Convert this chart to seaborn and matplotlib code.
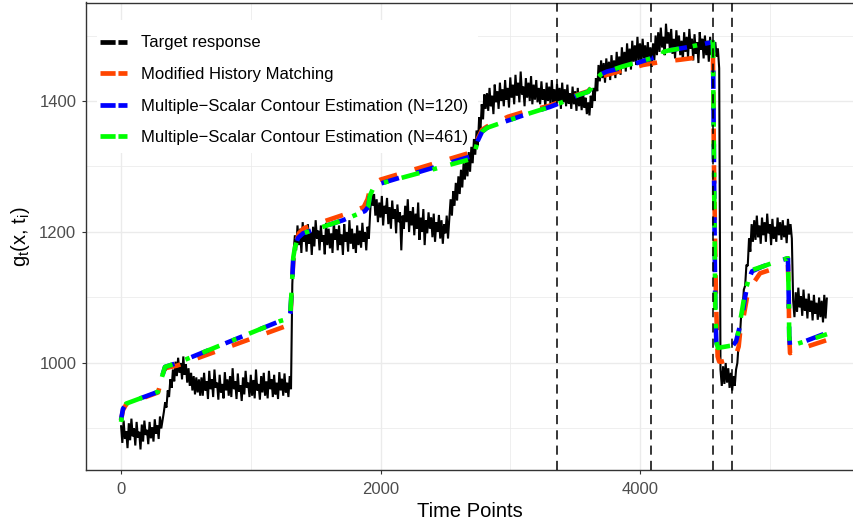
import numpy as np
import pandas as pd
import matplotlib
matplotlib.use("Agg")
import matplotlib.pyplot as plt
import seaborn as sns
from matplotlib.lines import Line2D
from matplotlib.patches import Rectangle
from matplotlib.ticker import FixedLocator

# ---------------- data ----------------
STEP = 10  # time spacing of the sampled target response

target_a = [905, 878, 912, 884, 896, 870, 908, 882, 915, 888, 900, 874, 910, 886, 895, 868,
            906, 880, 912, 890, 898, 876, 910, 885, 902, 880, 914, 892, 905, 884, 918, 900]
target_b = [912, 925, 940, 932, 958, 948, 975, 962, 990, 972, 1002, 980, 1008, 985, 1000,
            975, 1010, 982, 998, 970, 992, 965, 985, 958, 980, 952, 978, 955, 975, 950]
target_c = [978, 950, 985, 958, 972, 945, 988, 960, 975, 948, 990, 962, 970, 944, 982, 955, 968, 946, 986, 958,
            975, 950, 980, 948, 992, 960, 972, 945, 984, 956, 966, 942, 978, 952, 988, 962, 970, 948, 982, 950,
            974, 946, 990, 958, 968, 944, 980, 955, 985, 950, 972, 946, 988, 960, 975, 948, 982, 952, 970, 945,
            986, 958, 976, 950, 984, 955, 970, 948, 980, 960]
target_d = [1120, 1170, 1195, 1172, 1210, 1180, 1205, 1168, 1215, 1185, 1198, 1170, 1212, 1182, 1200, 1165, 1208, 1178, 1218, 1190,
            1202, 1172, 1210, 1185, 1195, 1166, 1214, 1180, 1205, 1175, 1198, 1168, 1216, 1188, 1204, 1172, 1210, 1180, 1196, 1165,
            1212, 1185, 1200, 1170, 1218, 1182, 1205, 1174, 1198, 1168, 1210, 1180, 1202, 1176, 1214, 1185, 1200, 1172, 1208, 1190]
target_e = [1230, 1262, 1240, 1258, 1225, 1250, 1215, 1245, 1222, 1255, 1210, 1240, 1228, 1252, 1212, 1238, 1205, 1248, 1220, 1235,
            1198, 1242, 1215, 1230, 1172, 1225, 1205, 1240, 1215, 1250, 1200, 1232, 1210, 1238, 1195, 1228, 1205, 1245, 1188, 1222,
            1200, 1235, 1180, 1218, 1198, 1230, 1205, 1222, 1192, 1228, 1185, 1215, 1200, 1226, 1190, 1218, 1182, 1212, 1198, 1225,
            1190, 1220]
target_f = [1250, 1225, 1262, 1240, 1275, 1248, 1285, 1258, 1295, 1268, 1305, 1280, 1312, 1285,
            1322, 1292, 1330, 1305, 1342, 1318, 1355, 1332, 1375, 1355, 1395, 1372, 1410, 1388]
target_g = [1412, 1385, 1420, 1392, 1408, 1380, 1425, 1398, 1415, 1388, 1428, 1400, 1418, 1392, 1432, 1402, 1420, 1390, 1436, 1405,
            1425, 1395, 1440, 1408, 1428, 1398, 1445, 1410, 1422, 1392, 1435, 1405, 1428, 1400, 1438, 1395, 1425, 1402, 1432, 1398,
            1420, 1395, 1430, 1402, 1418, 1390, 1428, 1400, 1422, 1394, 1432, 1398, 1418, 1392, 1426, 1400, 1420, 1388, 1428, 1398,
            1418, 1392, 1425, 1396, 1412, 1388, 1422, 1395, 1415, 1385, 1420, 1392, 1410, 1386, 1415, 1390, 1405, 1380, 1398, 1378,
            1408, 1390, 1420, 1400]
target_h = [1435, 1415, 1455, 1430, 1462, 1435, 1458, 1428, 1465, 1438, 1460, 1432, 1470, 1440, 1462, 1435, 1475, 1445, 1468, 1440,
            1482, 1450, 1475, 1445, 1488, 1455, 1480, 1448, 1492, 1460, 1485, 1455, 1498, 1462, 1488, 1458, 1495, 1465, 1485, 1455,
            1490, 1460, 1482, 1452, 1488, 1462, 1500, 1470]
target_i = [1505, 1475, 1512, 1482, 1498, 1470, 1518, 1488, 1505, 1478, 1510, 1472, 1495, 1465, 1508, 1480, 1500, 1470, 1492, 1462,
            1505, 1475, 1498, 1466, 1510, 1480, 1495, 1462, 1502, 1472, 1490, 1458, 1505, 1478, 1495, 1465, 1500, 1470, 1492, 1460,
            1498, 1470, 1488, 1475]
target_j = [1490, 1468, 1480, 1450, 990, 965, 995, 968, 1000, 970, 992, 962, 985, 958, 980, 965, 990, 1000]
target_k0 = [1030, 1042, 1075, 1082, 1112, 1118, 1150, 1148, 1190, 1170, 1212, 1185]
target_k = [1218, 1188, 1225, 1192, 1210, 1182, 1222, 1195, 1215, 1185, 1228, 1198, 1212, 1180, 1220,
            1190, 1208, 1185, 1222, 1195, 1215, 1188, 1218, 1192, 1210, 1183, 1220, 1196, 1212, 1190]
target_l = [1095, 1070, 1108, 1078, 1115, 1085, 1102, 1072, 1112, 1080, 1098, 1068, 1106, 1078,
            1095, 1065, 1104, 1075, 1092, 1066, 1100, 1070, 1095, 1062, 1104, 1068, 1100]

target = (target_a + target_b + target_c + target_d + target_e + target_f + target_g +
          target_h + target_i + target_j + target_k0 + target_k + target_l)
target_time = np.arange(len(target)) * STEP

mhm_t = [0, 15, 40, 285, 316, 339, 432, 1225, 1295, 1305,
         1312, 1320, 1328, 1345, 1370, 1410, 1711, 1870, 1900, 1920,
         1945, 2000, 2690, 2730, 2751, 2782, 2820, 2983, 3100, 3306,
         3398, 3522, 3600, 3625, 3645, 3700, 3745, 4023, 4170, 4308,
         4462, 4562, 4570, 4585, 4598, 4610, 4632, 4732, 4760, 4771,
         4794, 4825, 4863, 4925, 5079, 5140, 5146, 5150, 5156, 5256,
         5441]
mhm_y = [913, 928, 937, 955, 977, 992, 996, 1053, 1058, 1068,
         1095, 1128, 1158, 1182, 1198, 1206, 1226, 1238, 1250, 1266,
         1274, 1280, 1321, 1330, 1343, 1356, 1361, 1376, 1383, 1393,
         1400, 1410, 1415, 1420, 1428, 1437, 1440, 1455, 1460, 1463,
         1467, 1468, 1300, 1100, 1010, 1002, 1002, 1008, 1025, 1046,
         1066, 1101, 1119, 1137, 1147, 1150, 1100, 1040, 1015, 1023,
         1035]

msce_t = [0, 15, 40, 285, 316, 339, 432, 1225, 1295, 1305,
          1312, 1320, 1328, 1341, 1364, 1403, 1711, 1880, 1904, 1919,
          1942, 2000, 2690, 2730, 2751, 2782, 2820, 2921, 3113, 3306,
          3398, 3522, 3600, 3625, 3645, 3700, 3745, 3869, 4100, 4172,
          4180, 4216, 4362, 4562, 4570, 4580, 4588, 4600, 4717, 4740,
          4755, 4786, 4809, 4833, 4863, 4940, 5040, 5140, 5146, 5150,
          5156, 5256, 5441]
msce120_y = [913, 930, 938, 956, 979, 994, 1000, 1064, 1068, 1076,
             1101, 1131, 1162, 1177, 1191, 1198, 1218, 1232, 1238, 1256,
             1266, 1274, 1315, 1325, 1340, 1353, 1359, 1366, 1379, 1391,
             1398, 1409, 1414, 1420, 1430, 1441, 1445, 1451, 1466, 1470,
             1475, 1477, 1482, 1490, 1300, 1080, 1032, 1023, 1027, 1033,
             1045, 1069, 1100, 1125, 1140, 1147, 1154, 1160, 1100, 1040,
             1026, 1032, 1046]
msce461_y = [910, 930, 938, 956, 979, 994, 1000, 1064, 1068, 1076,
             1101, 1131, 1162, 1177, 1191, 1198, 1218, 1232, 1238, 1256,
             1266, 1274, 1311, 1325, 1340, 1353, 1359, 1366, 1379, 1391,
             1398, 1409, 1414, 1420, 1430, 1441, 1445, 1453, 1466, 1470,
             1475, 1477, 1482, 1490, 1300, 1080, 1032, 1023, 1027, 1033,
             1045, 1080, 1108, 1125, 1142, 1147, 1154, 1160, 1100, 1040,
             1026, 1032, 1044]

vlines_t = [3363, 4087, 4563, 4707]

labels = ["Target response", "Modified History Matching",
          "Multiple\u2212Scalar Contour Estimation (N=120)",
          "Multiple\u2212Scalar Contour Estimation (N=461)"]
colors = ["#000000", "#FF4500", "#0000FF", "#00FF00"]

# ---------------- figure ----------------
sns.set_theme(style="white")
plt.rcParams['font.family'] = ['Liberation Sans', 'DejaVu Sans']
plt.rcParams['mathtext.fontset'] = 'custom'
plt.rcParams['mathtext.rm'] = 'Liberation Sans'
plt.rcParams['mathtext.it'] = 'Liberation Sans'

W, H = 854, 521
fig = plt.figure(figsize=(W / 100, H / 100), dpi=100)
ax_l, ax_r, ax_t, ax_b = 86, 854, 2.5, 470
ax = fig.add_axes([ax_l / W, (H - ax_b) / H, (ax_r - ax_l) / W, (ax_b - ax_t) / H])
ax.set_facecolor("white")

# grid
ax.xaxis.set_major_locator(FixedLocator([0, 2000, 4000]))
ax.xaxis.set_minor_locator(FixedLocator([1000, 3000, 5000]))
ax.yaxis.set_major_locator(FixedLocator([1000, 1200, 1400]))
ax.yaxis.set_minor_locator(FixedLocator([900, 1100, 1300, 1500]))
ax.grid(which="major", color="#EBEBEB", lw=1.0, zorder=0)
ax.grid(which="minor", color="#EBEBEB", lw=0.55, zorder=0)
ax.set_axisbelow(True)

# white legend background box (legend sits inside the panel)
ax.add_patch(Rectangle(((97 - ax_l) / (ax_r - ax_l), (ax_b - 153) / (ax_b - ax_t)),
                       (478 - 97) / (ax_r - ax_l), (153 - 20) / (ax_b - ax_t),
                       transform=ax.transAxes, facecolor="white", edgecolor="none", zorder=1))

LW = 3.3
sns.lineplot(x=target_time, y=target, color=colors[0], lw=1.5, ax=ax,
             estimator=None, sort=False, zorder=2)
sns.lineplot(x=mhm_t, y=mhm_y, color=colors[1], lw=LW, ax=ax,
             estimator=None, sort=False, zorder=3)
ax.lines[-1].set_linestyle((0, (4, 4)))
sns.lineplot(x=msce_t, y=msce120_y, color=colors[2], lw=LW, ax=ax,
             estimator=None, sort=False, zorder=4)
ax.lines[-1].set_linestyle((1.0, (4, 4)))
sns.lineplot(x=msce_t, y=msce461_y, color=colors[3], lw=LW, ax=ax,
             estimator=None, sort=False, zorder=5)
ax.lines[-1].set_linestyle((0, (1, 3, 4, 3)))
for ln in ax.lines:
    ln.set_dash_capstyle("butt")
    ln.set_solid_capstyle("butt")
    ln.set_solid_joinstyle("miter")

for v in vlines_t:
    ax.axvline(v, color="black", lw=1.1, linestyle=(0, (6, 4)), zorder=6)

ax.set_xlim(-270, 5649)
ax.set_ylim(836.6, 1550.4)

# spines
for s in ["left", "bottom", "top"]:
    ax.spines[s].set_visible(True)
    ax.spines[s].set_color("#333333")
    ax.spines[s].set_linewidth(1.0)
ax.spines["right"].set_visible(False)

ax.tick_params(axis="both", which="major", length=3, width=0.8, color="#333333",
               labelcolor="#4D4D4D", labelsize=12, bottom=True, left=True)
ax.tick_params(axis="x", which="major", pad=5.5)
ax.tick_params(axis="y", which="major", pad=4)
ax.tick_params(which="minor", length=0)

ax.set_xlabel("Time Points", fontsize=14.5, color="black", labelpad=3.5)
ax.set_ylabel(r"g$_{\mathrm{t}}$(x, t$_{\mathrm{i}}$)", fontsize=14.5, color="black", labelpad=5)

handles = [Line2D([], [], color=c, lw=3.4, linestyle=(0, (3.2, 0.6)), solid_capstyle="butt",
                  dash_capstyle="butt") for c in colors]
leg = ax.legend(handles, labels, loc="upper left",
                bbox_to_anchor=((100 - ax_l) / (ax_r - ax_l), (ax_b - 35.5) / (ax_b - ax_t)),
                fontsize=12, frameon=False, handlelength=1.6, handletextpad=0.84,
                labelspacing=0.99, borderpad=0.0, borderaxespad=0.0)
leg.set_zorder(10)
for t in leg.get_texts():
    t.set_color("black")

fig.savefig("out.png", dpi=100)
